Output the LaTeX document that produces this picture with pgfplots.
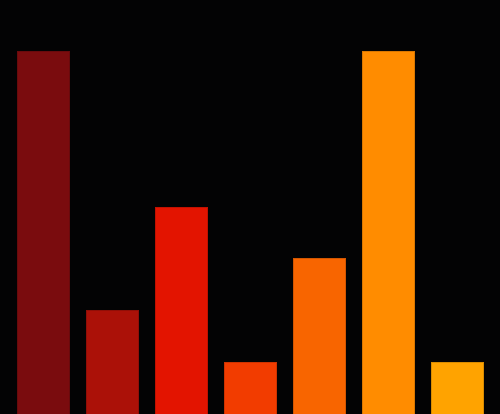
\documentclass[border=0pt]{standalone}
\usepackage{pgfplots}
\pgfplotsset{compat=1.18}
\definecolor{bgc}{HTML}{030304}
\definecolor{c1}{HTML}{7A0C0E}
\definecolor{c2}{HTML}{AB1108}
\definecolor{c3}{HTML}{E31400}
\definecolor{c4}{HTML}{F23C00}
\definecolor{c5}{HTML}{F86500}
\definecolor{c6}{HTML}{FF8C00}
\definecolor{c7}{HTML}{FFA300}
\begin{document}
\begin{tikzpicture}
\begin{axis}[
  width=10cm, height=8.28cm,
  scale only axis,
  axis lines=none,
  ticks=none,
  axis background/.style={fill=bgc},
  xmin=-0.623, xmax=6.623,
  ymin=0, ymax=8,
  ybar, bar width=1.04cm, bar shift=0pt,
  clip=true,
]
  \addplot[fill=c1, draw=c1!85!black, line width=0.4pt] coordinates {(0,7)};
  \addplot[fill=c2, draw=c2!85!black, line width=0.4pt] coordinates {(1,2)};
  \addplot[fill=c3, draw=c3!85!black, line width=0.4pt] coordinates {(2,4)};
  \addplot[fill=c4, draw=c4!85!black, line width=0.4pt] coordinates {(3,1)};
  \addplot[fill=c5, draw=c5!85!black, line width=0.4pt] coordinates {(4,3)};
  \addplot[fill=c6, draw=c6!85!black, line width=0.4pt] coordinates {(5,7)};
  \addplot[fill=c7, draw=c7!85!black, line width=0.4pt] coordinates {(6,1)};
\end{axis}
\end{tikzpicture}
\end{document}
